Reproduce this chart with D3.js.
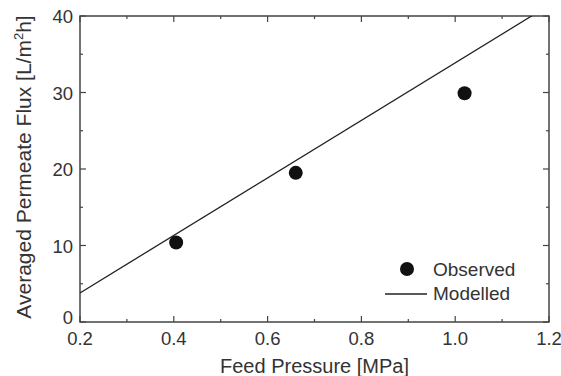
<!DOCTYPE html>
<html>
<head>
<meta charset="utf-8">
<script src="https://cdn.jsdelivr.net/npm/d3@7"></script>
<style>
  body { margin: 0; background: #fff; }
  text { font-family: "Liberation Sans", Arial, sans-serif; fill: #333; }
</style>
</head>
<body>
<svg id="chart" width="561" height="376"></svg>
<script>
// observed points
const pressure = [0.405, 0.66, 1.02]
const flux = [10.4, 19.5, 29.9]
// modelled line
const modelPressure = [0.2, 1.2]
const modelFlux = [3.8, 41.4]
const xTicks = [0.2, 0.4, 0.6, 0.8, 1.0, 1.2]
const yTicks = [0, 10, 20, 30, 40]

const svg = d3.select('#chart')
const margin = {left: 80, right: 12, top: 16, bottom: 54}
const W = 561, H = 376
const x = d3.scaleLinear().domain([0.2, 1.2]).range([margin.left, W - margin.right])
const y = d3.scaleLinear().domain([0, 40]).range([H - margin.bottom, margin.top])

const frameColor = '#444'

svg.append('clipPath').attr('id', 'clip')
  .append('rect')
  .attr('x', x(0.2)).attr('y', y(40))
  .attr('width', x(1.2) - x(0.2)).attr('height', y(0) - y(40))

// ticks inward on all four sides
const minorX = d3.range(0.3, 1.2, 0.2)
const minorY = d3.range(5, 40, 10)
const tk = svg.append('g').attr('stroke', frameColor).attr('stroke-width', 1.2)
xTicks.forEach(v => {
  tk.append('line').attr('x1', x(v)).attr('x2', x(v)).attr('y1', y(0)).attr('y2', y(0) - 6)
  tk.append('line').attr('x1', x(v)).attr('x2', x(v)).attr('y1', y(40)).attr('y2', y(40) + 6)
})
minorX.forEach(v => {
  tk.append('line').attr('x1', x(v)).attr('x2', x(v)).attr('y1', y(0)).attr('y2', y(0) - 3)
  tk.append('line').attr('x1', x(v)).attr('x2', x(v)).attr('y1', y(40)).attr('y2', y(40) + 3)
})
yTicks.forEach(v => {
  tk.append('line').attr('x1', x(0.2)).attr('x2', x(0.2) + 6).attr('y1', y(v)).attr('y2', y(v))
  tk.append('line').attr('x1', x(1.2)).attr('x2', x(1.2) - 6).attr('y1', y(v)).attr('y2', y(v))
})
minorY.forEach(v => {
  tk.append('line').attr('x1', x(0.2)).attr('x2', x(0.2) + 3).attr('y1', y(v)).attr('y2', y(v))
  tk.append('line').attr('x1', x(1.2)).attr('x2', x(1.2) - 3).attr('y1', y(v)).attr('y2', y(v))
})

// frame
svg.append('rect')
  .attr('x', x(0.2)).attr('y', y(40))
  .attr('width', x(1.2) - x(0.2)).attr('height', y(0) - y(40))
  .attr('fill', 'none').attr('stroke', frameColor).attr('stroke-width', 1.5)

// tick labels
svg.append('g').selectAll('text').data(xTicks).join('text')
  .attr('x', d => x(d)).attr('y', y(0) + 23)
  .attr('text-anchor', 'middle').attr('font-size', 18.5)
  .text(d => d.toFixed(1))
svg.append('g').selectAll('text').data(yTicks).join('text')
  .attr('x', x(0.2) - 7).attr('y', d => y(d) + (d === 0 ? 2 : 7))
  .attr('text-anchor', 'end').attr('font-size', 18.5)
  .text(d => d)

// model line
const line = d3.line().x(d => x(d[0])).y(d => y(d[1]))
svg.append('path')
  .datum(d3.zip(modelPressure, modelFlux))
  .attr('clip-path', 'url(#clip)')
  .attr('d', line)
  .attr('fill', 'none').attr('stroke', '#222').attr('stroke-width', 1.3)

// observed
svg.append('g').selectAll('circle').data(d3.zip(pressure, flux)).join('circle')
  .attr('cx', d => x(d[0])).attr('cy', d => y(d[1]))
  .attr('r', 7).attr('fill', '#111')

// legend
const lg = svg.append('g')
lg.append('circle').attr('cx', 407).attr('cy', 269).attr('r', 7).attr('fill', '#111')
lg.append('text').attr('x', 433).attr('y', 276).attr('font-size', 19).text('Observed')
lg.append('line').attr('x1', 385).attr('x2', 427).attr('y1', 294).attr('y2', 294)
  .attr('stroke', '#222').attr('stroke-width', 1.3)
lg.append('text').attr('x', 433).attr('y', 300).attr('font-size', 19).text('Modelled')

// axis titles
svg.append('text')
  .attr('x', (x(0.2) + x(1.2)) / 2).attr('y', 373)
  .attr('text-anchor', 'middle').attr('font-size', 20)
  .text('Feed Pressure [MPa]')
const yt = svg.append('text')
  .attr('transform', `translate(31, ${(y(0) + y(40)) / 2 - 2}) rotate(-90)`)
  .attr('text-anchor', 'middle').attr('font-size', 21)
yt.append('tspan').text('Averaged Permeate Flux [L/m')
yt.append('tspan').attr('font-size', 13).attr('dy', -8).text('2')
yt.append('tspan').attr('dy', 8).text('h]')
</script>
</body>
</html>
